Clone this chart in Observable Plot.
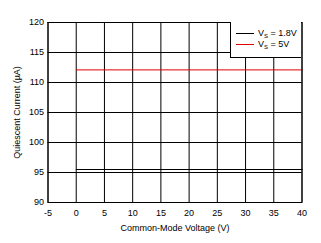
<!DOCTYPE html>
<html><head><meta charset="utf-8">
<script src="https://cdn.jsdelivr.net/npm/d3@7"></script>
<script src="https://cdn.jsdelivr.net/npm/@observablehq/plot@0.6"></script>
<style>
html,body{margin:0;padding:0;background:#fff;}
#wrap{position:relative;width:321px;height:243px;font-family:"Liberation Sans",Arial,sans-serif;}
#legend{position:absolute;left:230px;top:22px;width:71px;height:36px;border:1px solid #000;border-top:none;border-right:none;box-sizing:border-box;background:#fff;font-size:9px;}
.row{position:absolute;left:5px;height:10px;display:flex;align-items:center;}
.sw{width:18px;height:0;border-top:1px solid;margin-right:4px;}
sub{font-size:6px;vertical-align:-2px;}
</style>
</head><body>
<div id="wrap"></div>
<script>
const xTicks = [-5,0,5,10,15,20,25,30,35,40];
const yTicks = [90,95,100,105,110,115,120];
const seriesNames = ["1.8V","5V"];
const seriesColors = ["#000000","#e00000"];
const voltage = [0, 40];
const current18 = [95.5, 95.5];
const current5 = [112.1, 112.1];

const data = [];
voltage.forEach((v,i)=>{
  data.push({s:"1.8V", x:v, y:current18[i]});
  data.push({s:"5V", x:v, y:current5[i]});
});

const chart = Plot.plot({
  width: 321, height: 243,
  marginLeft: 47.5, marginRight: 19.5, marginTop: 22, marginBottom: 41,
  style: {fontFamily: '"Liberation Sans", Arial, sans-serif', fontSize: "9px", background: "#fff", color: "#000"},
  x: {domain: [-5, 40], ticks: xTicks, tickFormat: d => String(d), tickSize: 0, tickPadding: 7, label: "Common-Mode Voltage (V)", labelAnchor: "center", labelOffset: 28, labelArrow: "none"},
  y: {domain: [90, 120], ticks: yTicks, tickFormat: d => String(d), tickSize: 0, tickPadding: 4, label: "Quiescent Current (µA)", labelAnchor: "center", labelOffset: 34, labelArrow: "none"},
  color: {domain: seriesNames, range: seriesColors},
  marks: [
    Plot.ruleX(xTicks, {stroke: "#000", strokeWidth: 1}),
    Plot.ruleY(yTicks, {stroke: "#000", strokeWidth: 1}),
    Plot.line(data, {x: "x", y: "y", z: "s", stroke: "s", strokeWidth: 1}),
    Plot.frame({stroke: "#000", strokeWidth: 1})
  ]
});
const wrap = document.getElementById("wrap");
wrap.appendChild(chart);

const leg = document.createElement("div");
leg.id = "legend";
seriesNames.forEach((n,i)=>{
  const r = document.createElement("div");
  r.className = "row";
  r.style.top = (6 + i*11) + "px";
  r.innerHTML = `<span class="sw" style="border-color:${seriesColors[i]}"></span><span>V<sub>S</sub> = ${n}</span>`;
  leg.appendChild(r);
});
wrap.appendChild(leg);
</script>
</body></html>
